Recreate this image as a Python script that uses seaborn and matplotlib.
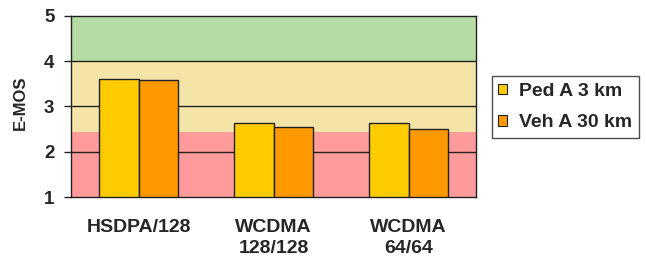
import pandas as pd
import seaborn as sns
import matplotlib.pyplot as plt
from matplotlib.patches import Patch

categorias = ["HSDPA/128", "WCDMA\n128/128", "WCDMA\n64/64"]
series = ["Ped A 3 km", "Veh A 30 km"]
ped_a = [3.61, 2.64, 2.64]
veh_a = [3.58, 2.54, 2.51]
faixas = [(1.0, 2.44), (2.44, 4.0), (4.0, 5.0)]
cores_faixas = ["#FF9B9B", "#F5E4A8", "#B6DCA6"]
cores = ["#FFCC00", "#FF9900"]

dados = pd.DataFrame({
    "Categoria": categorias * 2,
    "E-MOS": ped_a + veh_a,
    "Série": [series[0]] * 3 + [series[1]] * 3,
})

sns.set_theme(style="white")
plt.rcParams['font.family'] = ['Liberation Sans', 'DejaVu Sans']

fig = plt.figure(figsize=(6.46, 2.61), dpi=100)
ax = fig.add_axes([0.110, 0.245, 0.627, 0.694])

# faixas coloridas de fundo
for (a, b), c in zip(faixas, cores_faixas):
    ax.axhspan(a, b, color=c, zorder=0, lw=0)
for yv in [2, 3, 4]:
    ax.axhline(yv, color="#202020", lw=1.0, zorder=1)

sns.barplot(data=dados, x="Categoria", y="E-MOS", hue="Série", palette=cores,
            saturation=1, width=0.58, edgecolor="#202020", linewidth=1.0,
            ax=ax, zorder=2, legend=False)

ax.set_ylim(1, 5)
ax.set_xlim(-0.5, 2.5)
ax.set_yticks([1, 2, 3, 4, 5])
ax.set_yticklabels(["1", "2", "3", "4", "5"], fontsize=13.5, fontweight="bold")
ax.set_xticks([0, 1, 2])
ax.set_xticklabels(categorias, fontsize=14, fontweight="bold", linespacing=1.3)
ax.set_xticks([-0.5, 0.5, 1.5, 2.5], minor=True)
ax.tick_params(axis="x", which="major", length=0, pad=16)
ax.tick_params(axis="x", which="minor", length=5, width=1, color="#202020", direction="out")
ax.tick_params(axis="y", length=5, width=1, color="#202020", direction="out", left=True, pad=7)
ax.set_xlabel("")
ax.set_ylabel("E-MOS", fontsize=12, fontweight="bold")
ax.yaxis.set_label_coords(-0.107, 0.52)
for s in ax.spines.values():
    s.set_color("#202020")
    s.set_linewidth(1.0)

handles = [Patch(facecolor=c, edgecolor="#202020", lw=0.8) for c in cores]
leg = fig.legend(handles, series, loc="upper left", bbox_to_anchor=(0.761, 0.709),
                 frameon=True, fancybox=False, handlelength=0.45, handleheight=0.45,
                 handletextpad=0.6, borderpad=0.35, labelspacing=0.75,
                 borderaxespad=0, prop={"weight": "bold", "size": 14})
leg.get_frame().set_edgecolor("#202020")
leg.get_frame().set_linewidth(1.0)

plt.savefig("out.png", dpi=100)
